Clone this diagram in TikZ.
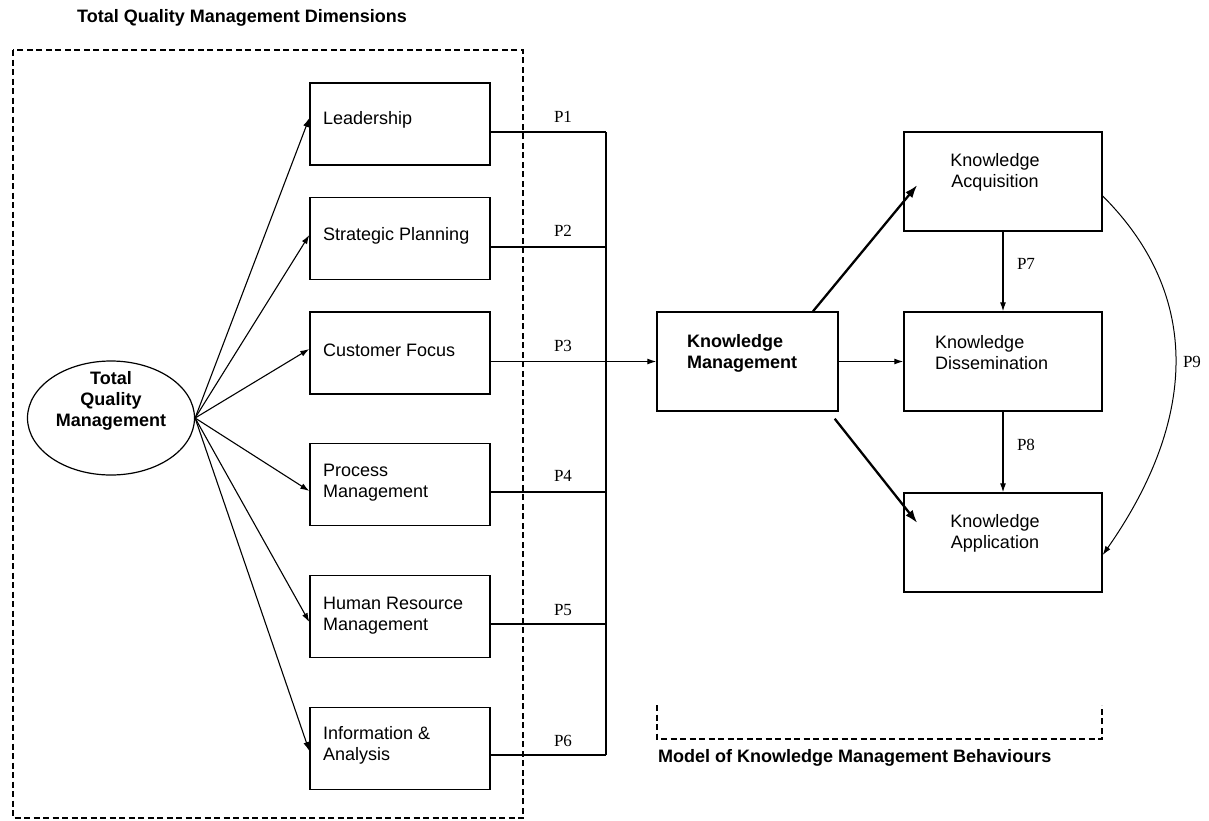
\documentclass[tikz,border=0pt]{standalone}
\usepackage{fontspec}
\setmainfont{Liberation Sans}
\newfontfamily\pfont{Liberation Serif}
\usetikzlibrary{arrows.meta,calc,shapes.geometric}

\begin{document}
\begin{tikzpicture}[x=1pt,y=-1pt,
  box/.style={draw, line width=1.4pt, minimum width=180pt, minimum height=82pt, inner sep=0pt},
  kbox/.style={draw, line width=1.4pt, minimum width=198pt, minimum height=99pt, inner sep=0pt},
  txt/.style={font=\fontsize{18}{21}\selectfont, align=left, inner sep=0pt},
  btxt/.style={font=\fontsize{18}{21}\selectfont\bfseries, inner sep=0pt},
  plab/.style={font=\fontsize{17}{20}\selectfont\pfont, inner sep=0pt},
  conn/.style={line width=1.2pt},
  arr/.style={line width=1.1pt, -{Latex[length=9pt,width=6pt]}},
  bigarr/.style={line width=2.3pt, -{Latex[length=13pt,width=9pt]}},
  dashbox/.style={line width=1.3pt, dash pattern=on 6pt off 3.5pt},
]
\useasboundingbox (0,0) rectangle (1209,820);

% heading and the dashed frame around the TQM dimensions
\node[btxt, anchor=west] (title) at (77,18) {Total Quality Management Dimensions};
\draw[dashbox] (13,50) rectangle (523,818);

% total quality management
\node[draw, ellipse, line width=1.2pt, minimum width=167pt, minimum height=114pt, inner sep=0pt] (tqm) at (111,418) {};
\node[btxt, align=center] (tqmtext) at (111,401) {Total\\Quality\\Management};

% the six TQM dimensions
\node[box] (lead)  at (400,124)   {};
\node[box] (strat) at (400,238.5) {};
\node[box] (cust)  at (400,353)   {};
\node[box] (proc)  at (400,484.5) {};
\node[box] (hr)    at (400,616.5) {};
\node[box] (info)  at (400,748.5) {};
\node[txt, anchor=west] (leadt)  at (323,120)   {Leadership};
\node[txt, anchor=west] (stratt) at (323,236)   {Strategic Planning};
\node[txt, anchor=west] (custt)  at (323,350)   {Customer Focus};
\node[txt, anchor=west] (proct)  at (323,482.5) {Process\\Management};
\node[txt, anchor=west] (hrt)    at (323,615.5) {Human Resource\\Management};
\node[txt, anchor=west] (infot)  at (323,745)   {Information \&\\Analysis};

% fan of arrows from TQM to each dimension
\foreach \n/\d in {lead/-6, strat/-3.5, cust/-4, proc/6.5, hr/5.5, info/2.5}
  \draw[arr] (tqm.east) -- ($(\n.west)+(0,\d)$);

% collecting bus with propositions P1--P6
\coordinate (b1) at (606,132);
\coordinate (b2) at (606,247);
\coordinate (b4) at (606,492);
\coordinate (b5) at (606,624);
\coordinate (b6) at (606,755);
\draw[conn] (b1 -| lead.east) -- (b1);
\draw[conn] (b2 -| strat.east) -- (b2);
\draw[conn] (b4 -| proc.east) -- (b4);
\draw[conn] (b5 -| hr.east) -- (b5);
\draw[conn] (b6 -| info.east) -- (b6);
\draw[conn] (b1) -- (b6);

\node[plab] (p1) at (563,117) {P1};
\node[plab] (p2) at (563,231) {P2};
\node[plab] (p3) at (563,346) {P3};
\node[plab] (p4) at (563,476) {P4};
\node[plab] (p5) at (563,610) {P5};
\node[plab] (p6) at (563,741) {P6};

% knowledge management
\node[draw, line width=1.4pt, minimum width=181pt, minimum height=99pt, inner sep=0pt] (km) at (747.5,361.5) {};
\node[btxt, align=left, anchor=west] (kmt) at (687,353) {Knowledge\\Management};
\draw[arr] (km.west -| cust.east) -- (km.west);

% knowledge management behaviours
\node[kbox] (ka)   at (1003,181.5) {};
\node[kbox] (kd)   at (1003,361.5) {};
\node[kbox] (kapp) at (1003,542.5) {};
\node[txt, align=center] (kat)   at (995,172)   {Knowledge\\Acquisition};
\node[txt, anchor=west]  (kdt)   at (935,353)   {Knowledge\\Dissemination};
\node[txt, align=center] (kappt) at (995,533.5) {Knowledge\\Application};

\draw[bigarr] ([xshift=65.5pt]km.north) -- ([xshift=14pt,yshift=-3.5pt]ka.west);
\draw[bigarr] ([xshift=-4pt,yshift=-7pt]km.south east) -- ([xshift=14pt,yshift=19.5pt]kapp.west);
\draw[arr] (km.east) -- (kd.west);
\draw[arr] (ka.south) -- (kd.north);
\draw[arr] (kd.south) -- (kapp.north);
\draw[arr, line width=1pt] ([yshift=-14.5pt]ka.east) to[out=-45, in=55, looseness=1.08] ([yshift=-12.5pt]kapp.east);

\node[plab] (p7) at (1026,264) {P7};
\node[plab] (p8) at (1026,445) {P8};
\node[plab] (p9) at (1192,362) {P9};

% bracket grouping the behaviours
\coordinate (brl) at (657,705);
\coordinate (brr) at (1102,705);
\draw[dashbox] (brl) -- ++(0,34) -| (brr);
\node[btxt, anchor=west] (kmb) at (658,758) {Model of Knowledge Management Behaviours};
\end{tikzpicture}
\end{document}
